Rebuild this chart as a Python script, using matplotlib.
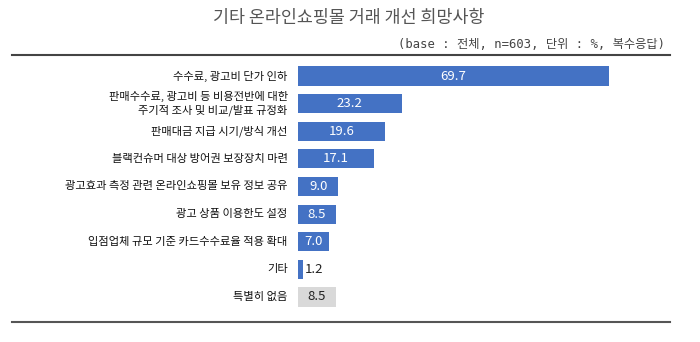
import matplotlib
matplotlib.use("Agg")
import matplotlib.pyplot as plt
from matplotlib.lines import Line2D

plt.rcParams['font.family'] = ['Noto Sans CJK KR', 'DejaVu Sans']

categories = [
    "수수료, 광고비 단가 인하",
    "판매수수료, 광고비 등 비용전반에 대한\n주기적 조사 및 비교/발표 규정화",
    "판매대금 지급 시기/방식 개선",
    "블랙컨슈머 대상 방어권 보장장치 마련",
    "광고효과 측정 관련 온라인쇼핑몰 보유 정보 공유",
    "광고 상품 이용한도 설정",
    "입점업체 규모 기준 카드수수료율 적용 확대",
    "기타",
    "특별히 없음",
]
values = [69.7, 23.2, 19.6, 17.1, 9.0, 8.5, 7.0, 1.2, 8.5]
colors = ["#4472c4"] * 8 + ["#d9d9d9"]

title = "기타 온라인쇼핑몰 거래 개선 희망사항"
subtitle = "(base : 전체, n=603, 단위 : %, 복수응답)"

W, H = 700, 342
fig = plt.figure(figsize=(W / 100, H / 100), dpi=100)
fig.patch.set_facecolor("white")

ax = fig.add_axes([298 / W, 31.2 / H, 357 / W, 248.6 / H])
pos = list(range(len(values)))
ax.barh(pos, values, height=0.69, color=colors)
ax.set_xlim(0, 80)
ax.set_ylim(len(values) - 0.5, -0.5)
ax.axis("off")

for i, (v, c) in enumerate(zip(values, colors)):
    if v < 3:
        ax.text(v + 0.3, i, f"{v:.1f}", ha="left", va="center", fontsize=9.5, color="#222222")
    else:
        tc = "white" if c != "#d9d9d9" else "#222222"
        ax.text(v / 2, i, f"{v:.1f}", ha="center", va="center", fontsize=9.5, color=tc)
    ax.text(-2.3, i, categories[i], ha="right", va="center", fontsize=8.1,
            color="#111111", fontweight="medium", linespacing=1.25)

fig.text(349 / W, 1 - 18 / H, title, ha="center", va="center", fontsize=12.5,
         color="#555555", fontweight="medium")
fig.text(665 / W, 1 - 44 / H, subtitle, ha="right", va="center", fontsize=8.8,
         color="#444444", family=['DejaVu Sans Mono', 'Noto Sans CJK KR'])

fig.add_artist(Line2D([12 / W, 670 / W], [1 - 55 / H, 1 - 55 / H], color="#444444", lw=1.5))
fig.add_artist(Line2D([12 / W, 670 / W], [1 - 322 / H, 1 - 322 / H], color="#555555", lw=1.5))

fig.savefig("out.png", dpi=100)
